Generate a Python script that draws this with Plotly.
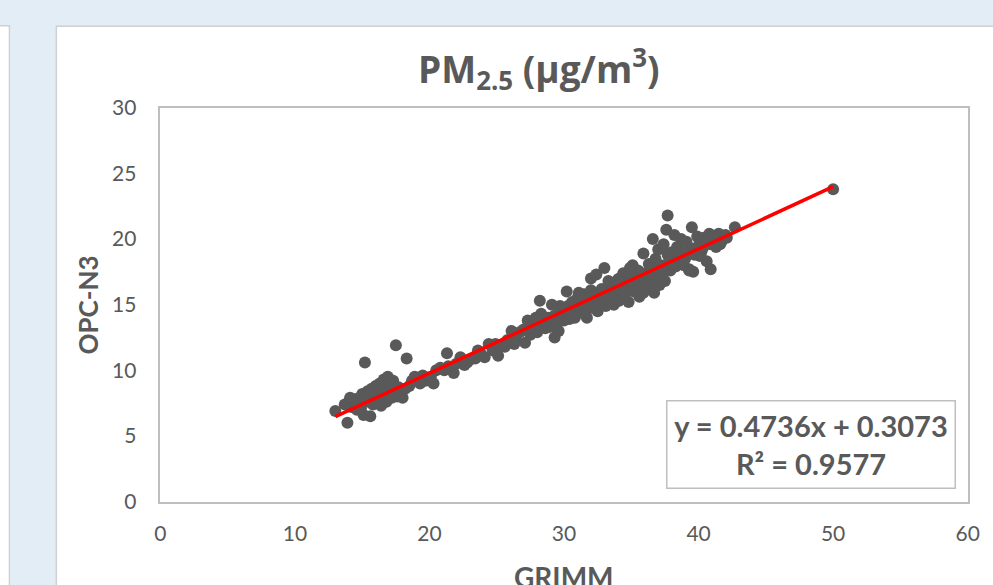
import plotly.graph_objects as go

# ---- data (GRIMM vs OPC-N3, PM2.5 µg/m3) ----
grimm = [
    13.0, 13.9, 13.7, 14.0, 14.2, 14.4, 14.6, 14.8, 14.9, 15.0, 15.1, 15.2, 15.3, 15.4, 15.5, 15.6,
    15.7, 15.8, 15.9, 16.0, 16.1, 16.2, 16.3, 16.4, 16.5, 16.6, 16.7, 16.8, 16.9, 17.0, 17.1, 17.2,
    17.3, 17.4, 17.5, 17.6, 17.7, 17.9, 18.0, 18.3, 18.5, 18.9, 19.3, 19.7, 20.1, 20.3,
    20.8, 21.3, 21.4, 21.8, 22.0, 22.3, 22.6, 23.0, 23.4, 23.8, 24.1, 24.4, 24.7, 25.1, 25.4, 25.8,
    26.1, 26.4, 26.7, 27.1, 27.3, 27.5, 27.8, 28.0, 28.2, 28.3, 28.4, 28.6, 28.8, 29.0, 29.1, 29.3,
    29.4, 29.6, 29.8, 30.0, 30.2, 30.3, 30.5, 30.6, 30.8, 31.0, 31.1, 31.3, 31.5, 31.6, 31.7, 31.9,
    32.0, 32.1, 32.3, 32.4, 32.5, 32.7, 32.9, 33.0, 33.1, 33.2, 33.4, 33.6, 33.7, 33.9, 34.0, 34.1,
    34.3, 34.4, 34.5, 34.7, 34.8, 35.0, 35.1, 35.2, 35.4, 35.5, 35.6, 35.8, 35.9, 36.0, 36.1, 36.3,
    36.4, 36.5, 36.6, 36.7, 36.8, 36.9, 37.0, 37.1, 37.2, 37.3, 37.4, 37.5, 37.6, 37.7, 37.8, 37.9,
    38.0, 38.1, 38.2, 38.3, 38.4, 38.6, 38.7, 38.8, 39.0, 39.1, 39.3, 39.4, 39.5, 39.6, 39.7, 39.9,
    40.0, 40.2, 40.4, 40.6, 40.8, 40.9, 41.2, 41.5, 41.7, 42.0, 42.7, 50.0,
    28.5, 28.9, 29.2, 29.5, 29.9, 30.1, 30.4, 30.7, 30.9, 31.2, 31.4, 31.8, 32.2, 32.6, 32.8, 33.3,
    33.5, 33.8, 34.2, 34.6, 34.9, 35.3, 35.7, 36.2, 36.6, 37.0, 37.4, 37.7, 38.5, 38.9, 39.2, 39.8,
    40.1, 40.3, 40.7, 41.0, 41.3, 36.0, 36.9, 35.9, 34.9, 34.1, 33.3, 32.0, 31.1, 29.7, 27.9, 27.0,
    26.3, 25.6, 24.9, 23.6, 22.8, 21.1, 20.5, 19.5, 18.7, 18.2, 16.9, 16.4, 16.0, 15.7, 15.2, 14.6,
    14.1, 41.6, 42.1, 39.3, 40.9, 38.0, 37.2,
]
opc_n3 = [
    6.9, 6.0, 7.4, 7.6, 7.2, 7.8, 7.5, 7.9, 7.1, 8.2, 6.6, 10.6, 7.6, 8.4, 7.8, 6.5,
    8.6, 7.4, 8.1, 8.8, 7.7, 8.4, 9.0, 7.3, 8.0, 9.3, 8.6, 7.6, 9.5, 8.2, 8.9, 7.9,
    9.2, 8.5, 11.9, 8.0, 8.7, 8.3, 7.9, 10.9, 8.8, 9.5, 9.0, 9.2, 9.5, 9.0,
    10.2, 11.3, 10.3, 9.8, 10.5, 11.0, 10.4, 10.8, 10.9, 11.3, 11.0, 12.0, 11.5, 11.1, 11.9, 12.3,
    13.0, 12.5, 12.9, 12.1, 13.8, 12.7, 13.4, 12.9, 15.3, 14.3, 13.7, 13.2, 14.0, 13.5, 15.0, 12.5,
    14.2, 13.0, 14.6, 13.8, 16.0, 14.9, 14.3, 15.2, 14.0, 15.5, 14.6, 15.0, 15.8, 14.3, 14.0, 15.3,
    17.0, 14.8, 15.6, 17.3, 14.5, 15.9, 15.1, 17.8, 14.9, 16.2, 15.4, 16.6, 15.0, 15.8, 16.9, 15.3,
    16.3, 17.4, 15.7, 16.8, 15.2, 17.2, 18.0, 16.0, 16.6, 17.6, 15.6, 16.9, 18.9, 17.4, 16.2, 18.1,
    16.7, 17.7, 20.0, 15.9, 18.5, 17.0, 19.2, 16.5, 18.0, 17.4, 19.6, 16.8, 20.7, 21.8, 18.3, 17.6,
    19.0, 18.6, 20.3, 17.9, 19.4, 18.2, 20.0, 19.0, 18.5, 19.8, 17.7, 19.3, 20.9, 17.5, 18.8, 20.2,
    19.5, 19.0, 20.1, 18.3, 20.4, 19.6, 20.0, 20.4, 19.8, 20.3, 20.9, 23.8,
    13.9, 13.3, 14.1, 13.6, 14.4, 14.7, 13.9, 14.8, 15.0, 14.4, 15.2, 15.4, 15.1, 15.3, 16.2, 15.7,
    16.0, 16.3, 16.1, 16.5, 16.3, 17.0, 17.1, 17.3, 17.2, 17.8, 17.9, 18.8, 18.6, 18.0, 18.9, 19.1,
    18.7, 19.3, 19.8, 19.9, 19.4, 16.4, 16.8, 15.9, 17.8, 17.0, 16.8, 16.1, 15.9, 14.9, 14.0, 13.1,
    12.0, 11.8, 12.0, 11.5, 10.6, 10.0, 10.0, 9.6, 9.2, 8.6, 8.0, 8.2, 7.6, 8.0, 7.9, 7.0,
    7.9, 19.6, 20.1, 17.6, 17.7, 18.1, 17.6,
]

# regression reported in the chart
slope = 0.4736
intercept = 0.3073
r_squared = 0.9577

x_ticks = [0, 10, 20, 30, 40, 50, 60]
y_ticks = [0, 5, 10, 15, 20, 25, 30]

W, H = 993, 585
GRAY = "#595959"
AXIS_LINE = "#bfbfbf"
FONT = "Lato, Open Sans, sans-serif"
TITLE_FONT = "Open Sans, Lato, sans-serif"

# map a target position on the photographed page to the figure's paper fraction
SX, OX = 0.995, 4.5
SY, OY = 0.97, 9.0

# outer extents of the background shapes (outside the paper)
EDGE_L, EDGE_R = -33.0 / W, 1037.0 / W
EDGE_B, EDGE_T = 1 - 650.0 / H, 1 + 40.0 / H


def px(x):
    return ((x - OX) / SX) / W


def py(y):
    return 1 - ((y - OY) / SY) / H


fig = go.Figure()
fig.add_trace(go.Scatter(
    x=grimm, y=opc_n3, mode="markers",
    marker=dict(color=GRAY, size=12, line=dict(width=0)),
    hoverinfo="x+y", showlegend=False,
))
x_line = [min(grimm), max(grimm)]
y_line = [slope * v + intercept for v in x_line]
fig.add_trace(go.Scatter(
    x=x_line, y=y_line, mode="lines",
    line=dict(color="#ff0000", width=3.5), showlegend=False, hoverinfo="skip",
))

tick_font = dict(family=FONT, size=21, color=GRAY)

fig.update_layout(
    width=W, height=H,
    margin=dict(l=0, r=0, t=0, b=0),
    paper_bgcolor="#e3edf5",
    plot_bgcolor="#ffffff",
    showlegend=False,
    xaxis=dict(
        domain=[px(161), px(979)],
        range=[0, 60], tickvals=x_ticks, ticktext=[str(v) for v in x_ticks],
        showgrid=False, zeroline=False,
        showline=True, linecolor=AXIS_LINE, linewidth=1.5, mirror=True,
        ticks="outside", ticklen=13, tickcolor="rgba(0,0,0,0)",
        tickfont=tick_font,
    ),
    yaxis=dict(
        domain=[py(503), py(104)],
        range=[0, 30], tickvals=y_ticks, ticktext=[str(v) for v in y_ticks],
        showgrid=False, zeroline=False,
        showline=True, linecolor=AXIS_LINE, linewidth=1.5, mirror=True,
        ticks="outside", ticklen=18, tickcolor="rgba(0,0,0,0)",
        tickfont=tick_font,
    ),
    shapes=[
        # top strip of the page background
        dict(type="rect", xref="paper", yref="paper",
             x0=EDGE_L, x1=EDGE_R, y0=py(21), y1=EDGE_T,
             fillcolor="#e3edf5", line=dict(width=0), layer="below"),
        # left neighbour panel
        dict(type="rect", xref="paper", yref="paper",
             x0=EDGE_L, x1=px(8), y0=EDGE_B, y1=py(21),
             fillcolor="#ffffff", line=dict(color="#d0d0d0", width=1.5), layer="below"),
        # strip between panel and card
        dict(type="rect", xref="paper", yref="paper",
             x0=px(9), x1=px(55), y0=EDGE_B, y1=py(21),
             fillcolor="#e3edf5", line=dict(width=0), layer="below"),
        # chart card
        dict(type="rect", xref="paper", yref="paper",
             x0=px(55.5), x1=EDGE_R, y0=EDGE_B, y1=py(21.5),
             fillcolor="#ffffff", line=dict(color="#d0d0d0", width=1.5), layer="below"),
    ],
    annotations=[
        dict(text="PM<sub>2.5</sub> (µg/m<sup>3</sup>)", xref="paper", yref="paper",
             x=px(545), y=py(64.5), xanchor="center", yanchor="middle", showarrow=False,
             font=dict(family=TITLE_FONT, size=37, color=GRAY, weight="bold")),
        dict(text="OPC-N3", xref="paper", yref="paper", textangle=-90,
             x=px(88), y=py(304), xanchor="center", yanchor="middle", showarrow=False,
             font=dict(family=FONT, size=26, color=GRAY, weight="bold")),
        dict(text="GRIMM", xref="paper", yref="paper",
             x=px(570), y=py(560), xanchor="center", yanchor="top", showarrow=False,
             font=dict(family=FONT, size=28, color=GRAY, weight="bold")),
        dict(text=f"y = {slope:.4f}x + {intercept:.4f}<br>R² = {r_squared:.4f}",
             xref="paper", yref="paper", x=px(820), y=py(445),
             xanchor="center", yanchor="middle", showarrow=False, align="center",
             bordercolor=AXIS_LINE, borderwidth=1.5, borderpad=2, bgcolor="#ffffff",
             width=283, height=82,
             font=dict(family=FONT, size=29, color=GRAY, weight="bold")),
    ],
)

fig.write_html("out.html")
